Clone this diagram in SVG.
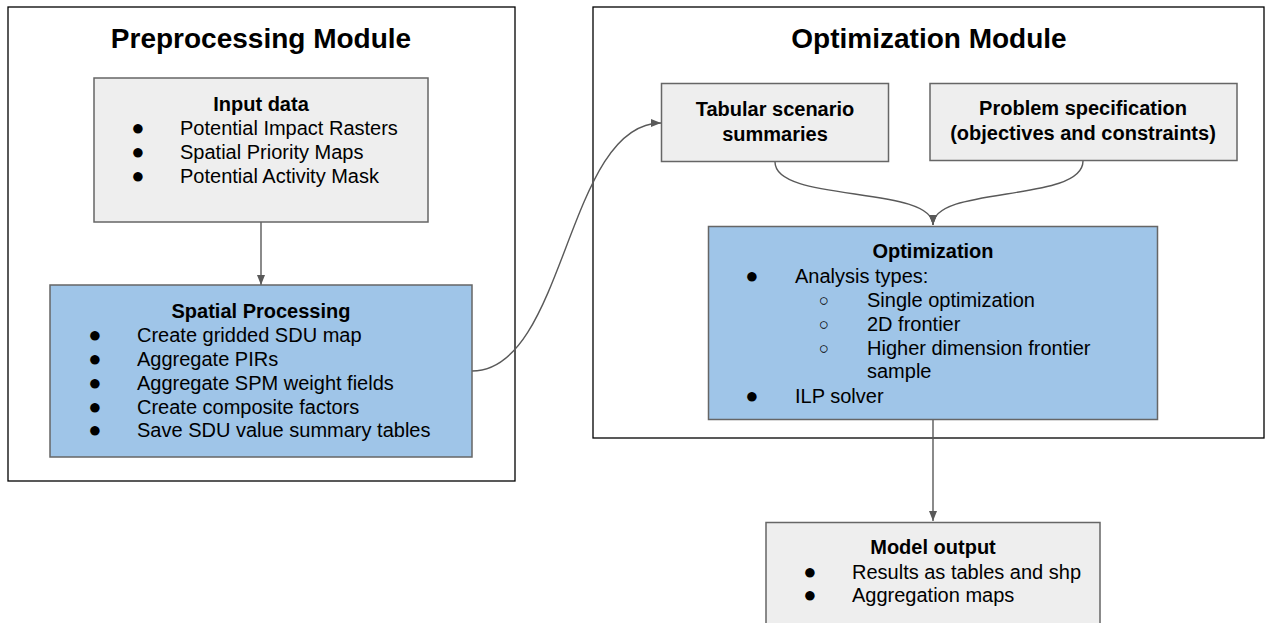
<svg xmlns="http://www.w3.org/2000/svg" width="1269" height="623" viewBox="0 0 1269 623">
<defs>
<marker id="arr" markerUnits="userSpaceOnUse" markerWidth="11" markerHeight="8" refX="10" refY="4" orient="auto">
<path d="M0,0 L10,4 L0,8 z" fill="#595959"/>
</marker>
<style>
.outer{fill:#fff;stroke:#000;stroke-width:1.3}
.gray{fill:#eeeeee;stroke:#666;stroke-width:1.5}
.blue{fill:#9fc5e8;stroke:#666;stroke-width:1.5}
.title{font-family:"Liberation Sans",Arial,sans-serif;font-size:28px;font-weight:bold;fill:#000;text-anchor:middle}
.h{font-family:"Liberation Sans",Arial,sans-serif;font-size:20px;font-weight:bold;fill:#000;text-anchor:middle}
.t{font-family:"Liberation Sans",Arial,sans-serif;font-size:20px;fill:#000}
.b{font-family:"Liberation Sans",Arial,sans-serif;font-size:22px;fill:#000;text-anchor:middle}
.o{font-family:"Liberation Sans",Arial,sans-serif;font-size:17px;fill:#000;text-anchor:middle}
.c{fill:none;stroke:#595959;stroke-width:1.4;marker-end:url(#arr)}
</style>
</defs>
<rect width="1269" height="623" fill="#fff"/>

<g id="preprocessing-module">
<rect class="outer" x="8" y="7" width="507" height="474"/>
<text class="title" x="261" y="48">Preprocessing Module</text>
</g>

<g id="optimization-module">
<rect class="outer" x="593" y="7" width="671" height="431"/>
<text class="title" x="929" y="48">Optimization Module</text>
</g>

<g id="connectors">
<path class="c" d="M261,222 L261,285"/>
<path class="c" d="M472,371 C566,371 566,123 661,123"/>
<path class="c" d="M775,162 C775,203 933,185 933,225"/>
<path class="c" d="M1083,161 C1083,203 933,185 933,225"/>
<path class="c" d="M933,419 L933,521"/>
</g>

<g id="input-data">
<rect class="gray" x="94" y="78" width="334" height="144"/>
<text class="h" x="261" y="111">Input data</text>
<text class="b" x="138" y="135">●</text><text class="t" x="180" y="135">Potential Impact Rasters</text>
<text class="b" x="138" y="159">●</text><text class="t" x="180" y="159">Spatial Priority Maps</text>
<text class="b" x="138" y="183">●</text><text class="t" x="180" y="183">Potential Activity Mask</text>
</g>

<g id="spatial-processing">
<rect class="blue" x="50" y="285" width="422" height="172"/>
<text class="h" x="261" y="318">Spatial Processing</text>
<text class="b" x="95" y="342">●</text><text class="t" x="137" y="342">Create gridded SDU map</text>
<text class="b" x="95" y="366">●</text><text class="t" x="137" y="366">Aggregate PIRs</text>
<text class="b" x="95" y="390">●</text><text class="t" x="137" y="390">Aggregate SPM weight fields</text>
<text class="b" x="95" y="414">●</text><text class="t" x="137" y="414">Create composite factors</text>
<text class="b" x="95" y="437">●</text><text class="t" x="137" y="437">Save SDU value summary tables</text>
</g>

<g id="tabular-scenario-summaries">
<rect class="gray" x="661.5" y="83.5" width="227" height="78"/>
<text class="h" x="775" y="116">Tabular scenario</text>
<text class="h" x="775" y="141">summaries</text>
</g>

<g id="problem-specification">
<rect class="gray" x="930" y="83.5" width="307" height="77"/>
<text class="h" x="1083" y="115">Problem specification</text>
<text class="h" x="1083" y="140">(objectives and constraints)</text>
</g>

<g id="optimization">
<rect class="blue" x="708.5" y="226.5" width="449" height="193"/>
<text class="h" x="933" y="258">Optimization</text>
<text class="b" x="752" y="283">●</text><text class="t" x="795" y="283">Analysis types:</text>
<text class="o" x="824" y="306">○</text><text class="t" x="867" y="307">Single optimization</text>
<text class="o" x="824" y="330">○</text><text class="t" x="867" y="331">2D frontier</text>
<text class="o" x="824" y="354">○</text><text class="t" x="867" y="355">Higher dimension frontier</text>
<text class="t" x="867" y="378">sample</text>
<text class="b" x="752" y="403">●</text><text class="t" x="795" y="403">ILP solver</text>
</g>

<g id="model-output">
<rect class="gray" x="766" y="522.5" width="334" height="120"/>
<text class="h" x="933" y="554">Model output</text>
<text class="b" x="810" y="579">●</text><text class="t" x="852" y="579">Results as tables and shp</text>
<text class="b" x="810" y="602">●</text><text class="t" x="852" y="602">Aggregation maps</text>
</g>
</svg>
